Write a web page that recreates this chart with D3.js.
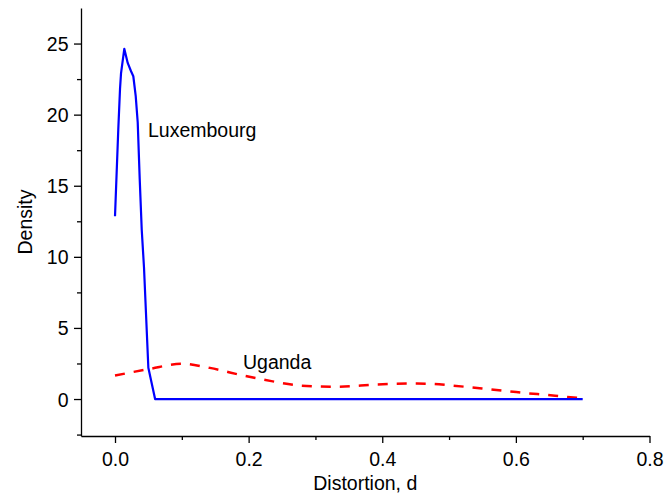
<!DOCTYPE html>
<html>
<head>
<meta charset="utf-8">
<script src="https://cdn.jsdelivr.net/npm/d3@7"></script>
<style>
  body { margin: 0; background: #fff; }
  svg text { font-family: "Liberation Sans", Arial, sans-serif; fill: #000; }
</style>
</head>
<body>
<svg id="chart"></svg>
<script>
// Luxembourg density (blue, solid)
const luxX = [0, 0.0049, 0.0075, 0.009, 0.0139, 0.019, 0.024, 0.0274, 0.031, 0.034, 0.037, 0.040, 0.0434, 0.0499, 0.06, 0.70];
const luxY = [12.86, 18.95, 21.8, 22.9, 24.63, 23.64, 23.05, 22.7, 21.3, 19.45, 15.45, 11.9, 9.25, 2.2, 0, 0];

// Uganda density (red, dashed)
const ugaX = [0, 0.052, 0.1, 0.142, 0.192, 0.222, 0.277, 0.332, 0.392, 0.452, 0.474, 0.504, 0.531, 0.56, 0.589, 0.617, 0.646, 0.675, 0.70];
const ugaY = [1.65, 2.12, 2.48, 2.19, 1.65, 1.37, 0.95, 0.86, 1.02, 1.09, 1.07, 0.95, 0.83, 0.69, 0.55, 0.41, 0.29, 0.15, 0.06];

const xTicks = [0, 0.2, 0.4, 0.6, 0.8];
const xMinor = [0.1, 0.3, 0.5, 0.7];
const yTicks = [0, 5, 10, 15, 20, 25];
const yMinor = [-2.5, 2.5, 7.5, 12.5, 17.5, 22.5];

const W = 664, H = 496;
const plotL = 81, plotR = 649.5, plotT = 8, plotB = 436;
const fs = 19.5;

const svg = d3.select("#chart").attr("width", W).attr("height", H);

const x = d3.scaleLinear().domain([-0.0509, 0.8]).range([plotL, plotR]);
const y = d3.scaleLinear().domain([-2.6, 27.5]).range([plotB, plotT]);

// x axis
const xAxis = svg.append("g").attr("transform", "translate(0," + plotB + ")");
xAxis.call(d3.axisBottom(x).tickValues(xTicks).tickFormat(d3.format(".1f")).tickSize(7).tickSizeOuter(0));
xAxis.append("g").call(d3.axisBottom(x).tickValues(xMinor).tickFormat("").tickSize(4).tickSizeOuter(0))
  .select(".domain").remove();
xAxis.selectAll("text").attr("font-size", fs).attr("y", 13).attr("dy", "0.85em");

// y axis
const yAxis = svg.append("g").attr("transform", "translate(" + plotL + ",0)");
yAxis.call(d3.axisLeft(y).tickValues(yTicks).tickSize(7).tickSizeOuter(0));
yAxis.append("g").call(d3.axisLeft(y).tickValues(yMinor).tickFormat("").tickSize(4).tickSizeOuter(0))
  .select(".domain").remove();
yAxis.selectAll("text").attr("font-size", fs).attr("x", -12.5).attr("dy", "0.36em");

svg.selectAll(".domain, .tick line").attr("stroke", "#000").attr("stroke-width", 1.3);

// axis titles
svg.append("text").attr("x", (plotL + plotR) / 2).attr("y", 490)
  .attr("text-anchor", "middle").attr("font-size", fs).text("Distortion, d");
svg.append("text").attr("transform", "translate(32," + ((plotT + plotB) / 2) + ") rotate(-90)")
  .attr("text-anchor", "middle").attr("font-size", fs).text("Density");

const ugaLine = d3.line().x(d => x(d[0])).y(d => y(d[1])).curve(d3.curveMonotoneX);
const luxLine = d3.line().x(d => x(d[0])).y(d => y(d[1]));

svg.append("path").datum(ugaX.map((v, i) => [v, ugaY[i]]))
  .attr("d", ugaLine)
  .attr("fill", "none").attr("stroke", "#ff0000").attr("stroke-width", 2.5)
  .attr("stroke-dasharray", "10,9");

svg.append("path").datum(luxX.map((v, i) => [v, luxY[i]]))
  .attr("d", luxLine)
  .attr("fill", "none").attr("stroke", "#0000ff").attr("stroke-width", 2.2)
  .attr("stroke-linejoin", "round");

// labels
svg.append("text").attr("x", 148).attr("y", 137).attr("font-size", fs).text("Luxembourg");
svg.append("text").attr("x", 243).attr("y", 369).attr("font-size", fs).text("Uganda");
</script>
</body>
</html>
